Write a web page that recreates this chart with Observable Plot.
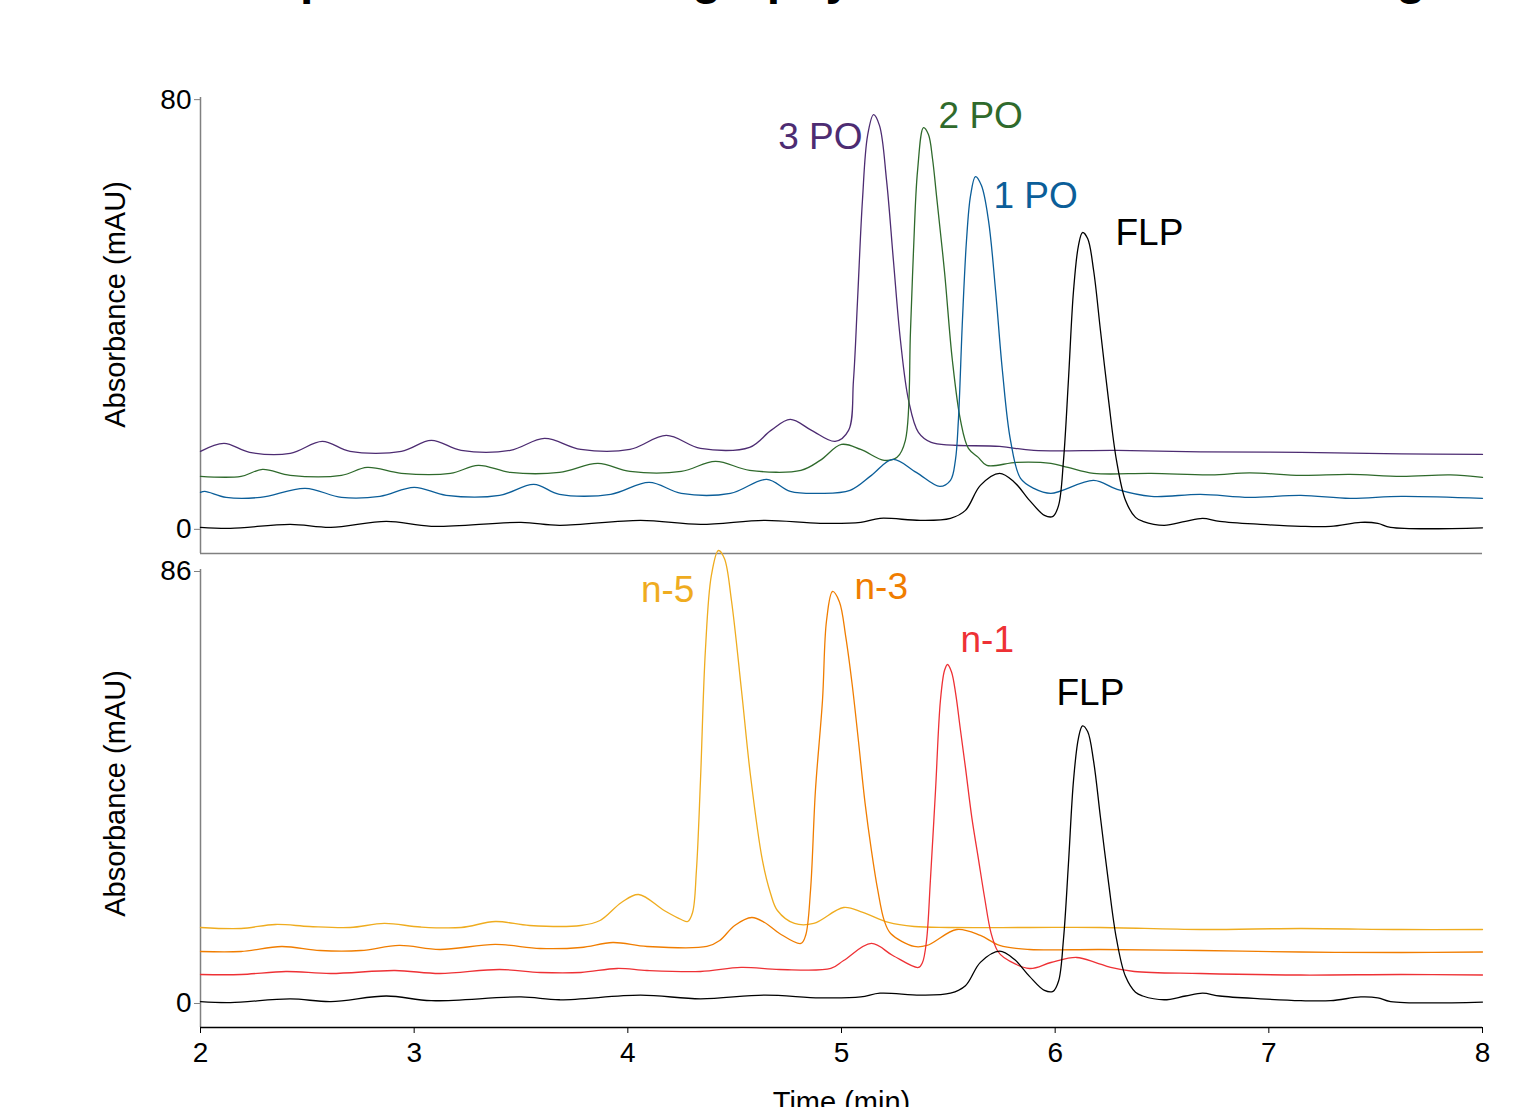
<!DOCTYPE html>
<html>
<head>
<meta charset="utf-8">
<script src="https://cdn.jsdelivr.net/npm/d3@7"></script>
<script src="https://cdn.jsdelivr.net/npm/@observablehq/plot@0.6"></script>
<style>
  html, body { margin: 0; padding: 0; background: #fff; overflow: hidden; }
  #wrap { position: relative; width: 1520px; height: 1107px; overflow: hidden; background: #fff; color: #000;
          font-family: "Liberation Sans", Arial, Helvetica, sans-serif; }
  #title { position: absolute; left: 244px; top: -45.6px; font-size: 48px; line-height: 48px; font-weight: bold;
           white-space: nowrap; margin: 0; z-index: 5; }
  #top, #bottom { position: absolute; left: 0; }
  #top { top: 0; }
  #bottom { top: 520px; }
</style>
</head>
<body>
<div id="wrap">
  <div id="title">Improved chromatography resolution of related oligonucleotides</div>
  <div id="top"></div>
  <div id="bottom"></div>
</div>
<script>
// ---------- DATA (time in min, absorbance in mAU) ----------
const xTicks = [2, 3, 4, 5, 6, 7, 8];
const topYTicks = [0, 80];
const bottomYTicks = [0, 86];
const topNames = ["3 PO", "2 PO", "1 PO", "FLP"];
const bottomNames = ["n-5", "n-3", "n-1", "FLP"];

const flp = [[2.00,0.37],[2.14,0.19],[2.42,0.93],[2.61,0.37],[2.87,1.49],[3.08,0.56],[3.50,1.30],[3.68,0.74],[4.06,1.67],[4.34,0.93],[4.64,1.67],[4.90,1.12],[5.09,1.30],[5.18,2.05],[5.37,1.67],[5.51,2.05],[5.58,3.53],[5.65,8.19],[5.74,10.42],[5.81,8.74],[5.88,5.40],[5.95,2.60],[5.99,2.42],[6.016,4.47],[6.039,12.84],[6.062,27.72],[6.086,44.47],[6.109,52.84],[6.128,55.26],[6.152,54.14],[6.180,48.19],[6.212,37.02],[6.250,24.00],[6.287,12.84],[6.329,5.40],[6.376,2.23],[6.41,1.49],[6.51,0.74],[6.61,1.49],[6.69,2.05],[6.77,1.49],[6.96,0.93],[7.15,0.56],[7.29,0.56],[7.43,1.30],[7.51,1.12],[7.57,0.37],[8.00,0.28]];

const po1 = [[2.00,6.88],[2.02,7.07],[2.12,5.95],[2.28,5.95],[2.49,7.63],[2.66,5.95],[2.84,6.14],[3.00,7.81],[3.15,6.33],[3.40,6.33],[3.56,8.37],[3.68,6.51],[3.92,6.51],[4.10,8.74],[4.25,6.70],[4.48,6.70],[4.65,9.30],[4.76,7.07],[4.90,6.70],[5.04,7.26],[5.14,10.05],[5.24,13.02],[5.35,10.60],[5.46,8.00],[5.510,9.12],[5.533,12.84],[5.547,20.28],[5.566,38.88],[5.585,53.77],[5.604,62.14],[5.627,65.67],[5.655,64.00],[5.688,57.49],[5.721,44.47],[5.753,29.58],[5.791,16.56],[5.838,9.49],[5.90,7.63],[5.98,6.70],[6.18,9.12],[6.29,7.44],[6.45,6.14],[6.68,6.51],[6.91,5.95],[7.15,6.33],[7.38,5.77],[7.62,6.14],[8.00,5.77]];

const po2 = [[2.00,9.86],[2.19,9.86],[2.29,11.16],[2.42,10.05],[2.66,10.05],[2.78,11.53],[2.94,10.42],[3.17,10.42],[3.30,11.91],[3.45,10.60],[3.68,10.60],[3.86,12.28],[4.01,10.79],[4.25,10.79],[4.41,12.65],[4.57,10.98],[4.81,10.98],[4.90,12.84],[5.00,15.81],[5.09,14.88],[5.20,12.84],[5.26,13.40],[5.299,16.56],[5.323,37.02],[5.337,51.91],[5.356,66.79],[5.384,74.79],[5.407,73.5],[5.426,69.0],[5.445,62.0],[5.482,48.0],[5.519,31.44],[5.557,20.28],[5.594,15.07],[5.64,13.40],[5.68,11.91],[5.82,12.47],[5.98,12.28],[6.06,11.53],[6.18,10.42],[6.45,10.42],[6.73,10.14],[6.91,10.51],[7.15,10.05],[7.38,10.23],[7.62,9.86],[7.85,10.14],[8.00,9.67]];

const po3 = [[2.00,14.51],[2.11,16.00],[2.23,14.33],[2.42,14.14],[2.57,16.37],[2.70,14.51],[2.94,14.51],[3.08,16.56],[3.22,14.70],[3.45,14.70],[3.61,16.93],[3.78,14.88],[4.01,14.88],[4.18,17.49],[4.34,15.07],[4.57,15.26],[4.67,18.42],[4.76,20.47],[4.86,18.42],[4.97,16.37],[5.033,18.42],[5.056,27.72],[5.075,42.60],[5.098,61.21],[5.122,73.30],[5.150,77.21],[5.178,75.16],[5.211,64.93],[5.243,50.05],[5.276,35.16],[5.314,24.00],[5.360,18.05],[5.42,16.19],[5.74,15.44],[5.90,14.70],[6.29,14.70],[6.68,14.42],[7.15,14.33],[7.62,14.05],[8.00,13.95]];

const n5 = [[2.00,15.13],[2.19,14.93],[2.35,15.73],[2.51,15.33],[2.70,15.13],[2.86,15.93],[3.03,15.23],[3.22,15.13],[3.38,16.32],[3.54,15.53],[3.78,15.53],[3.87,16.52],[3.97,20.11],[4.05,21.70],[4.17,18.51],[4.25,16.72],[4.28,16.32],[4.303,18.12],[4.321,26.48],[4.340,44.40],[4.363,70.28],[4.391,85.21],[4.424,90.18],[4.452,88.59],[4.485,80.23],[4.532,62.31],[4.574,45.39],[4.630,28.47],[4.668,21.90],[4.700,18.51],[4.78,15.93],[4.87,15.93],[5.01,19.11],[5.10,18.12],[5.22,16.13],[5.34,15.33],[5.50,15.13],[5.88,15.13],[6.21,15.13],[6.68,14.73],[7.15,14.93],[7.62,14.73],[8.00,14.73]];

const n3 = [[2.00,10.35],[2.19,10.35],[2.38,11.35],[2.56,10.55],[2.75,10.55],[2.93,11.55],[3.12,10.75],[3.38,11.75],[3.59,10.95],[3.78,11.15],[3.93,12.14],[4.09,11.35],[4.37,11.35],[4.43,12.54],[4.50,15.53],[4.58,17.12],[4.64,16.13],[4.71,13.94],[4.81,11.95],[4.832,13.54],[4.855,22.50],[4.878,42.40],[4.911,60.32],[4.930,76.25],[4.958,82.02],[4.99,80.0],[5.02,73.0],[5.05,63.5],[5.08,52.0],[5.11,40.0],[5.14,30.5],[5.17,22.5],[5.20,16.5],[5.23,13.94],[5.34,11.35],[5.40,11.55],[5.54,14.73],[5.65,13.54],[5.74,11.55],[5.88,10.75],[6.21,10.75],[6.68,10.55],[7.15,10.25],[7.62,10.15],[8.00,10.25]];

const n1 = [[2.00,5.77],[2.19,5.77],[2.40,6.37],[2.61,5.97],[2.91,6.57],[3.12,5.97],[3.40,6.77],[3.59,6.17],[3.78,6.17],[3.95,6.97],[4.09,6.57],[4.34,6.37],[4.53,7.17],[4.71,6.77],[4.95,6.97],[5.01,8.56],[5.14,11.95],[5.24,9.56],[5.36,7.17],[5.379,8.16],[5.398,12.54],[5.416,24.49],[5.440,42.40],[5.463,60.32],[5.482,66.29],[5.496,67.49],[5.515,66.0],[5.535,61.5],[5.555,55.0],[5.58,47.0],[5.61,37.0],[5.64,29.0],[5.67,21.0],[5.70,14.0],[5.73,10.5],[5.76,9.16],[5.88,6.97],[5.98,8.16],[6.10,9.16],[6.19,8.16],[6.26,7.17],[6.37,6.37],[6.68,5.97],[7.15,5.67],[7.62,5.77],[8.00,5.67]];

// ---------- STYLE ----------
const FONT = '"Liberation Sans", Arial, Helvetica, sans-serif';
const AXIS_GRAY = "#808080";
const C = {flp: "#000000", po1: "#0b5e99", po2: "#2f6a2c", po3: "#4d2c72",
           n1: "#ee3135", n3: "#f07d00", n5: "#efac1f"};
const LW = 1.3;
const LABEL_SIZE = 37;

const apex = s => d3.greatest(s, d => d[1]);
const line = (s, color) => Plot.line(s, {x: d => d[0], y: d => d[1], stroke: color, strokeWidth: LW, curve: "catmull-rom"});
const label = (s, name, color, opts) => Plot.text([apex(s)], {
  x: d => d[0], y: d => d[1], text: () => name, fill: color, fontSize: LABEL_SIZE,
  lineAnchor: "middle", ...opts
});

// ---------- TOP PANEL ----------
const topPlot = Plot.plot({
  width: 1520, height: 556,
  marginLeft: 200, marginRight: 38, marginTop: 97, marginBottom: 3,
  x: {domain: [2, 8], axis: null},
  y: {domain: [-4.5, 80.4]},
  style: {fontFamily: FONT, background: "transparent", color: "black", overflow: "visible"},
  marks: [
    Plot.ruleX([2], {stroke: AXIS_GRAY, strokeWidth: 1.5}),
    Plot.ruleY([-4.5], {stroke: AXIS_GRAY, strokeWidth: 1.5}),
    Plot.axisY({ticks: topYTicks, tickSize: 6, tickPadding: 3, stroke: AXIS_GRAY, fill: "black", fontSize: 28, label: null, tickFormat: d => String(d)}),
    Plot.text(["Absorbance (mAU)"], {frameAnchor: "left", text: d => d, rotate: -90, dx: -85, dy: -21, fontSize: 29, lineAnchor: "middle", textAnchor: "middle", fill: "black"}),
    line(po3, C.po3),
    line(po2, C.po2),
    line(po1, C.po1),
    line(flp, C.flp),
    label(po3, topNames[0], C.po3, {dx: -11, dy: 23, textAnchor: "end"}),
    label(po2, topNames[1], C.po2, {dx: 15, dy: -11, textAnchor: "start"}),
    label(po1, topNames[2], C.po1, {dx: 18, dy: 20, textAnchor: "start"}),
    label(flp, topNames[3], C.flp, {dx: 33, dy: 1, textAnchor: "start"})
  ]
});
document.getElementById("top").appendChild(topPlot);

// ---------- BOTTOM PANEL ----------
const bottomPlot = Plot.plot({
  width: 1520, height: 587,
  marginLeft: 200, marginRight: 38, marginTop: 49, marginBottom: 80,
  x: {domain: [2, 8]},
  y: {domain: [-4.78, 86.4]},
  style: {fontFamily: FONT, background: "transparent", color: "black", overflow: "visible"},
  marks: [
    Plot.ruleX([2], {stroke: AXIS_GRAY, strokeWidth: 1.5}),
    Plot.ruleY([-4.78], {stroke: "black", strokeWidth: 1.5}),
    Plot.axisY({ticks: bottomYTicks, tickSize: 6, tickPadding: 3, stroke: AXIS_GRAY, fill: "black", fontSize: 28, label: null, tickFormat: d => String(d)}),
    Plot.axisX({ticks: xTicks, tickSize: 6, tickPadding: 9, stroke: "black", fill: "black", fontSize: 28, label: null, tickFormat: d => String(d)}),
    Plot.text(["Absorbance (mAU)"], {frameAnchor: "left", text: d => d, rotate: -90, dx: -85, dy: -5, fontSize: 29, lineAnchor: "middle", textAnchor: "middle", fill: "black"}),
    Plot.text(["Time (min)"], {frameAnchor: "bottom", x: () => 5, text: d => d, dy: 84, fontSize: 29, lineAnchor: "bottom", textAnchor: "middle", fill: "black"}),
    line(n5, C.n5),
    line(n3, C.n3),
    line(n1, C.n1),
    line(flp, C.flp),
    label(n5, bottomNames[0], C.n5, {dx: -24, dy: 40, textAnchor: "end"}),
    label(n3, bottomNames[1], C.n3, {dx: 22, dy: -4, textAnchor: "start"}),
    label(n1, bottomNames[2], C.n1, {dx: 13, dy: -24, textAnchor: "start"}),
    label(flp, bottomNames[3], C.flp, {dx: -26, dy: -33, textAnchor: "start"})
  ]
});
document.getElementById("bottom").appendChild(bottomPlot);
</script>
</body>
</html>
